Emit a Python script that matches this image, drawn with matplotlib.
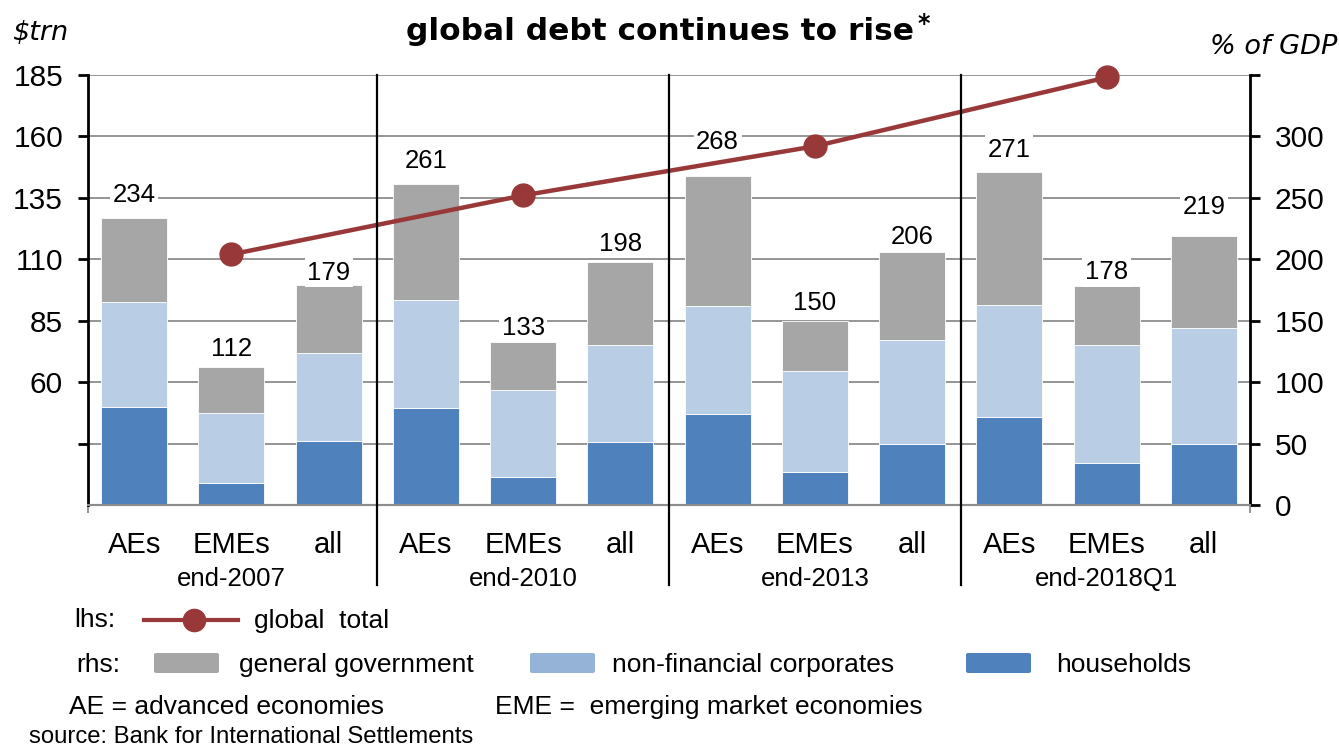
import numpy as np
import matplotlib.pyplot as plt
from matplotlib.patches import FancyBboxPatch
from matplotlib.lines import Line2D
import matplotlib.transforms as mtransforms

plt.rcParams['font.family'] = ['Liberation Sans', 'DejaVu Sans']

# debt by sector, % of GDP (rhs)
groups = ['end-2007', 'end-2010', 'end-2013', 'end-2018Q1']
regions = ['AEs', 'EMEs', 'all']
households = [80, 18, 52, 79, 23, 51, 74, 27, 50, 72, 34, 50]
corporates = [85, 57, 72, 88, 71, 79, 88, 82, 84, 91, 96, 94]
government = [69, 37, 55, 94, 39, 68, 106, 41, 72, 108, 48, 75]

# global total debt, $trn (lhs)
global_total = [112, 136, 156, 184]

# how far each total label sits above its bar, in points
label_lift = [16, 13, 9, 17, 10, 13, 24, 13, 11, 16, 10, 21]

c_gov = '#a6a6a6'
c_corp = '#b9cde5'
c_corp_leg = '#95b3d7'
c_hh = '#4f81bd'
c_line = '#993838'

W, H = 1339, 747
fig = plt.figure(figsize=(W / 100, H / 100), dpi=100)


def fx(x):
    return x / W


def fy(y):
    return 1 - y / H


ax = fig.add_axes([fx(88), fy(505), fx(1250) - fx(88), fy(75) - fy(505)])
axr = ax.twinx()
ax.set_zorder(axr.get_zorder() + 1)
ax.patch.set_visible(False)

n = len(households)
x = np.arange(n)
hh = np.array(households)
corp = np.array(corporates)
gov = np.array(government)
total = hh + corp + gov

# horizontal grid
for g in range(50, 351, 50):
    axr.axhline(g, color='#8c8c8c', lw=1.3, zorder=0)

bw = 0.68
axr.bar(x, hh, bw, color=c_hh, edgecolor='white', lw=0.6, zorder=2)
axr.bar(x, corp, bw, bottom=hh, color=c_corp, edgecolor='white', lw=0.6, zorder=2)
axr.bar(x, gov, bw, bottom=hh + corp, color=c_gov, edgecolor='white', lw=0.6, zorder=2)

for xi, t, lift in zip(x, total, label_lift):
    axr.annotate(str(t), (xi, t), xytext=(0, lift), textcoords='offset points',
                 ha='center', va='center', fontsize=18.5, zorder=3,
                 bbox=dict(boxstyle='square,pad=0.1', fc='white', ec='none'))

axr.set_ylim(0, 350)
axr.set_yticks(range(0, 351, 50))
axr.set_yticklabels([str(v) for v in range(0, 301, 50)] + [''])
axr.tick_params(axis='y', labelsize=21.5, length=7, width=2, pad=11, direction='out')

# global total on lhs, marked at EME bars
line_x = x[1::3]
ax.plot(line_x, global_total, color=c_line, lw=3.2, marker='o', ms=16.5,
        zorder=5, clip_on=False)
ax.set_ylim(10, 185)
ax.set_yticks(range(35, 186, 25))
ax.set_yticklabels([''] + [str(v) for v in range(60, 186, 25)])
ax.tick_params(axis='y', labelsize=21.5, length=7, width=2, pad=11, direction='out')

ax.set_xlim(-0.475, n - 0.525)
ax.set_xticks(x)
ax.set_xticklabels(regions * len(groups))
ax.tick_params(axis='x', length=0, labelsize=21, pad=19)
ax.set_xticks([-0.475, n - 0.525], minor=True)
ax.tick_params(axis='x', which='minor', length=6, width=1.3, color='#8c8c8c')

for a in (ax, axr):
    a.spines['top'].set_visible(False)
    a.spines['left'].set_linewidth(2)
    a.spines['right'].set_linewidth(2)
    a.spines['bottom'].set_color('#8c8c8c')
    a.spines['bottom'].set_linewidth(1.5)
axr.spines['left'].set_visible(False)
ax.spines['right'].set_visible(False)

# group separators and group names
trans = mtransforms.blended_transform_factory(ax.transData, ax.transAxes)
for k in range(1, len(groups)):
    sx = 3 * k - 0.5
    ax.plot([sx, sx], [-0.186, 1.0], color='black', lw=1.6, transform=trans,
            clip_on=False, zorder=6)
for k, gname in enumerate(groups):
    ax.text(3 * k + 1, -0.171, gname, transform=trans, ha='center', va='center',
            fontsize=18.5)

# titles
fig.text(fx(660), fy(31), 'global debt continues to rise', ha='center', va='center',
         fontsize=22.5, fontweight='bold', family='DejaVu Sans')
fig.text(fx(917), fy(24), '*', ha='left', va='center', fontsize=17,
         fontweight='bold', family='DejaVu Sans')
fig.text(fx(12), fy(33), r'\$trn', ha='left', va='center', fontsize=19.5,
         style='italic', family='DejaVu Sans')
fig.text(fx(1337), fy(47), '% of GDP', ha='right', va='center', fontsize=19.5,
         style='italic', family='DejaVu Sans')

# legend
fig.text(fx(74), fy(620), 'lhs:', ha='left', va='center', fontsize=19)
fig.add_artist(Line2D([fx(144), fx(238)], [fy(620), fy(620)], color=c_line, lw=3,
                      transform=fig.transFigure))
fig.add_artist(Line2D([fx(194)], [fy(620)], color=c_line, marker='o', ms=16,
                      transform=fig.transFigure))
fig.text(fx(254), fy(621), 'global  total', ha='left', va='center', fontsize=19)

fig.text(fx(76), fy(665), 'rhs:', ha='left', va='center', fontsize=19)
for px0, col, label, tx in [(154, c_gov, 'general government', 239),
                            (530, c_corp_leg, 'non-financial corporates', 612),
                            (966, c_hh, 'households', 1056)]:
    fig.add_artist(FancyBboxPatch((fx(px0), fy(673)), fx(65), fy(653) - fy(673),
                                  boxstyle='round,pad=0,rounding_size=0.002',
                                  fc=col, ec='none', transform=fig.transFigure))
    fig.text(fx(tx), fy(665), label, ha='left', va='center', fontsize=19)

fig.text(fx(69), fy(707), 'AE = advanced economies', ha='left', va='center', fontsize=19)
fig.text(fx(495), fy(707), 'EME =  emerging market economies', ha='left', va='center',
         fontsize=19)
fig.text(fx(29), fy(737), 'source: Bank for International Settlements', ha='left',
         va='center', fontsize=17.2)

fig.savefig('out.png', dpi=100)
